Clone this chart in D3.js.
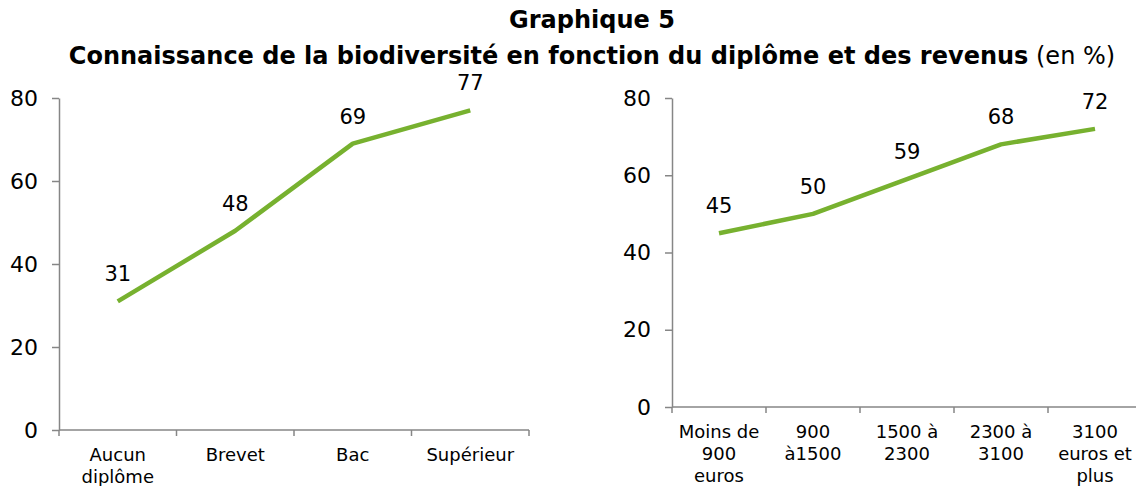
<!DOCTYPE html>
<html>
<head>
<meta charset="utf-8">
<script src="https://cdn.jsdelivr.net/npm/d3@7"></script>
<style>
  body { margin: 0; background: #fff; }
  svg, svg text { font-family: "DejaVu Sans", Verdana, sans-serif; }
  .axis path, .axis line { stroke: #868686; stroke-width: 1.5; }
  .axis text { fill: #000; }
</style>
</head>
<body>
<div id="chart"></div>
<script>
// diplome chart
var diplomes = ["Aucun\ndiplôme", "Brevet", "Bac", "Supérieur"];
var diplomeValues = [31, 48, 69, 77];
// revenus chart
var revenus = ["Moins de\n900\neuros", "900\nà1500", "1500 à\n2300", "2300 à\n3100", "3100\neuros et\nplus"];
var revenuValues = [45, 50, 59, 68, 72];
var yTicks = [0, 20, 40, 60, 80];

var svg = d3.select("#chart").append("svg").attr("width", 1136).attr("height", 486);

svg.append("text").attr("x", 592).attr("y", 28).attr("text-anchor", "middle")
  .style("font-size", "24px").style("font-weight", "bold").text("Graphique 5");
var t2 = svg.append("text").attr("x", 592).attr("y", 64).attr("text-anchor", "middle")
  .style("font-size", "24px");
t2.append("tspan").style("font-weight", "bold").text("Connaissance de la biodiversité en fonction du diplôme et des revenus");
t2.append("tspan").text(" (en %)");

function drawChart(cats, vals, left, right, top, bottom) {
  var g = svg.append("g");
  var x = d3.scaleBand().domain(cats).range([left, right]);
  var y = d3.scaleLinear().domain([0, 80]).range([bottom, top]);

  var xAxis = g.append("g").attr("class", "axis")
    .attr("transform", "translate(0," + bottom + ")")
    .call(d3.axisBottom(x).tickSize(0).tickFormat(""));
  xAxis.select(".domain").attr("d", "M" + left + ",0H" + right);
  // ticks sit between the categories
  xAxis.selectAll(".sep").data(d3.range(cats.length + 1)).enter().append("line")
    .attr("class", "sep")
    .attr("x1", function(i) { return left + i * x.bandwidth(); })
    .attr("x2", function(i) { return left + i * x.bandwidth(); })
    .attr("y1", 0).attr("y2", 6);

  g.selectAll(".cat").data(cats).enter().append("text")
    .attr("class", "cat")
    .attr("text-anchor", "middle")
    .style("font-size", "18px")
    .each(function(d) {
      var t = d3.select(this);
      d.split("\n").forEach(function(line, i) {
        t.append("tspan").attr("x", x(d) + x.bandwidth() / 2)
          .attr("y", bottom + 31 + i * 22).text(line);
      });
    });

  var yAxis = g.append("g").attr("class", "axis")
    .attr("transform", "translate(" + left + ",0)")
    .call(d3.axisLeft(y).tickValues(yTicks).tickSize(7).tickSizeOuter(0).tickPadding(14));
  yAxis.selectAll("text").style("font-size", "22px");

  var line = d3.line()
    .x(function(d, i) { return x(cats[i]) + x.bandwidth() / 2; })
    .y(function(d) { return y(d); });
  g.append("path").datum(vals)
    .attr("d", line)
    .attr("fill", "none")
    .attr("stroke", "#77b12f")
    .attr("stroke-width", 4.5)
    .attr("stroke-linejoin", "round");

  g.selectAll(".lab").data(vals).enter().append("text")
    .attr("class", "lab")
    .attr("text-anchor", "middle")
    .style("font-size", "21px")
    .attr("x", function(d, i) { return x(cats[i]) + x.bandwidth() / 2; })
    .attr("y", function(d) { return y(d) - 20; })
    .text(function(d) { return d; });
}

drawChart(diplomes, diplomeValues, 59, 529, 98, 430);
drawChart(revenus, revenuValues, 672, 1142, 98, 407);
</script>
</body>
</html>
